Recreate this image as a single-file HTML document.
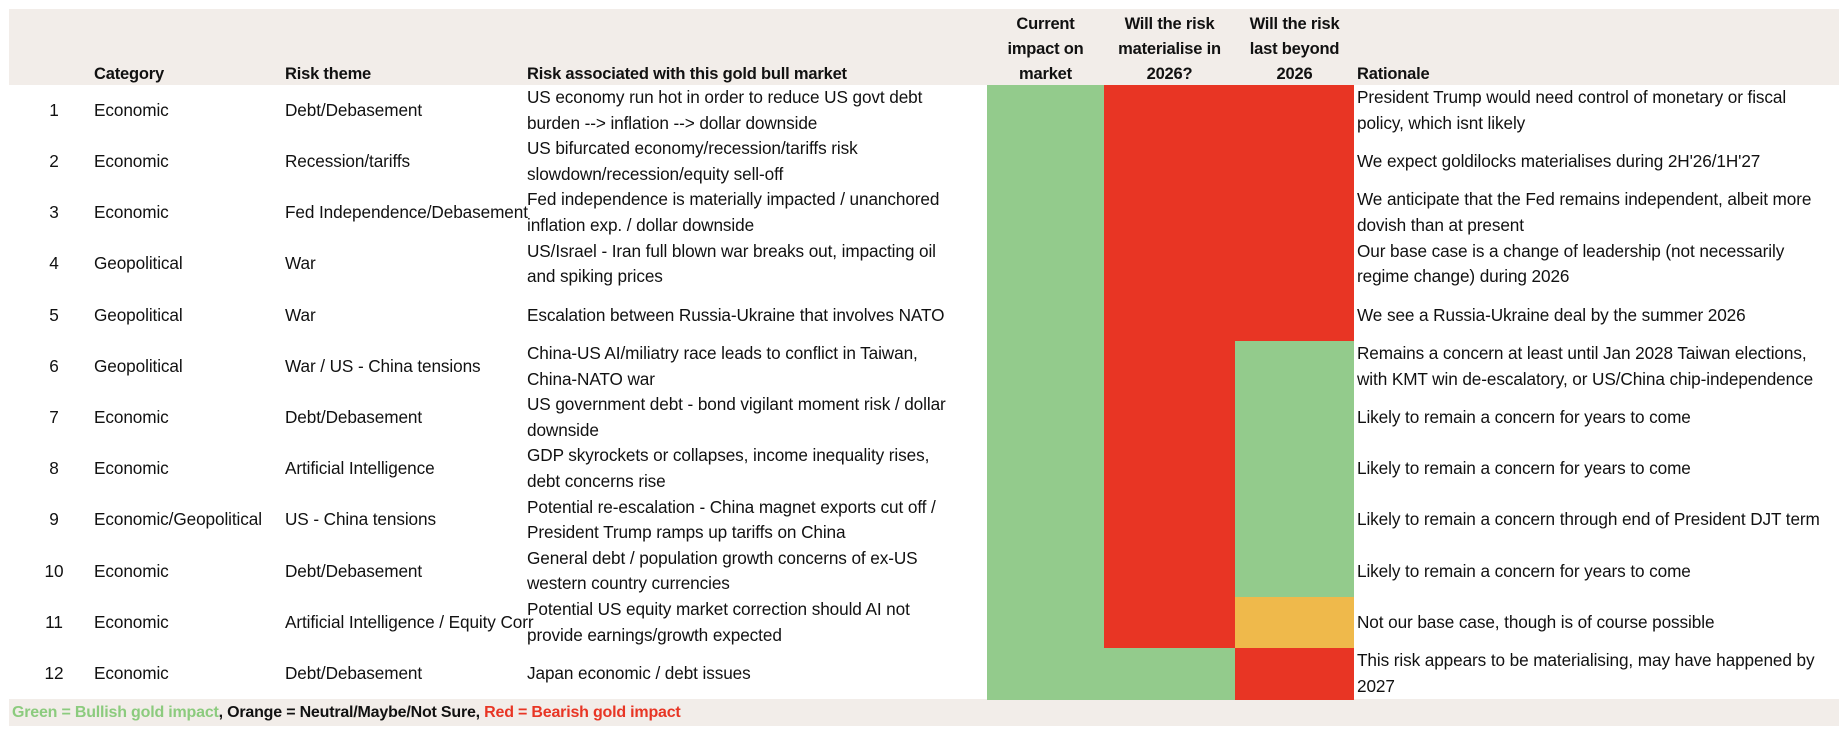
<!DOCTYPE html>
<html><head><meta charset="utf-8"><style>
body{margin:0;width:1846px;height:730px;background:#fff;overflow:hidden;font-family:"Liberation Sans",sans-serif;color:#111;}
.a{position:absolute;}
.bg{background:#F2EDE9;}
.c{position:absolute;display:flex;align-items:center;font-size:17.2px;line-height:25.5px;letter-spacing:-0.1px;white-space:nowrap;}
.h{position:absolute;font-weight:bold;font-size:16.5px;line-height:25px;letter-spacing:-0.2px;}
.hc{text-align:center;}
.g{background:#93CB8C}.r{background:#E83524}.o{background:#EFB94B}
</style></head><body>
<div class="a bg" style="left:9px;top:9px;width:1830px;height:76px"></div>
<div class="a bg" style="left:9px;top:699px;width:1830px;height:27px"></div>
<div class="h" style="left:94px;top:62px">Category</div>
<div class="h" style="left:285px;top:62px">Risk theme</div>
<div class="h" style="left:527px;top:62px">Risk associated with this gold bull market</div>
<div class="h hc" style="left:987px;top:12px;width:117px">Current<br>impact on<br>market</div>
<div class="h hc" style="left:1104px;top:12px;width:131px">Will the risk<br>materialise in<br>2026?</div>
<div class="h hc" style="left:1235px;top:12px;width:119px">Will the risk<br>last beyond<br>2026</div>
<div class="h" style="left:1357px;top:62px">Rationale</div>
<div id="rows"></div>
<div class="a" style="left:12px;top:703px;font-weight:bold;font-size:16px;line-height:20px;letter-spacing:-0.2px"><span style="color:#8CCB7E">Green = Bullish gold impact</span>, Orange = Neutral/Maybe/Not Sure, <span style="color:#E83524">Red = Bearish gold impact</span></div>
<script>
var d=[
["1","Economic","Debt/Debasement","US economy run hot in order to reduce US govt debt<br>burden --> inflation --> dollar downside","President Trump would need control of monetary or fiscal<br>policy, which isnt likely","grr"],
["2","Economic","Recession/tariffs","US bifurcated economy/recession/tariffs risk<br>slowdown/recession/equity sell-off","We expect goldilocks materialises during 2H'26/1H'27","grr"],
["3","Economic","Fed Independence/Debasement","Fed independence is materially impacted / unanchored<br>inflation exp. / dollar downside","We anticipate that the Fed remains independent, albeit more<br>dovish than at present","grr"],
["4","Geopolitical","War","US/Israel - Iran full blown war breaks out, impacting oil<br>and spiking prices","Our base case is a change of leadership (not necessarily<br>regime change) during 2026","grr"],
["5","Geopolitical","War","Escalation between Russia-Ukraine that involves NATO","We see a Russia-Ukraine deal by the summer 2026","grr"],
["6","Geopolitical","War / US - China tensions","China-US AI/miliatry race leads to conflict in Taiwan,<br>China-NATO war","Remains a concern at least until Jan 2028 Taiwan elections,<br>with KMT win de-escalatory, or US/China chip-independence","grg"],
["7","Economic","Debt/Debasement","US government debt - bond vigilant moment risk / dollar<br>downside","Likely to remain a concern for years to come","grg"],
["8","Economic","Artificial Intelligence","GDP skyrockets or collapses, income inequality rises,<br>debt concerns rise","Likely to remain a concern for years to come","grg"],
["9","Economic/Geopolitical","US - China tensions","Potential re-escalation - China magnet exports cut off /<br>President Trump ramps up tariffs on China","Likely to remain a concern through end of President DJT term","grg"],
["10","Economic","Debt/Debasement","General debt / population growth concerns of ex-US<br>western country currencies","Likely to remain a concern for years to come","grg"],
["11","Economic","Artificial Intelligence / Equity Corr","Potential US equity market correction should AI not<br>provide earnings/growth expected","Not our base case, though is of course possible","gro"],
["12","Economic","Debt/Debasement","Japan economic / debt issues","This risk appears to be materialising, may have happened by<br>2027","ggr"]];
var h="",cols=[[987,117],[1104,131],[1235,119]];
d.forEach(function(r,i){var t=85+i*51.2,H=51.2;
for(var k=0;k<3;k++)h+='<div class="a '+r[5][k]+'" style="left:'+cols[k][0]+'px;top:'+t+'px;width:'+cols[k][1]+'px;height:'+(H+0.5)+'px"></div>';
var xs=[[40],[94],[285],[527],[1357]];
for(var j=0;j<5;j++){var s='left:'+xs[j][0]+'px;top:'+t+'px;height:'+H+'px;';if(j==0)s+='width:28px;justify-content:center;';
h+='<div class="c" style="'+s+'"><div>'+r[j]+'</div></div>';}
});
document.getElementById('rows').innerHTML=h;
</script>
</body></html>
